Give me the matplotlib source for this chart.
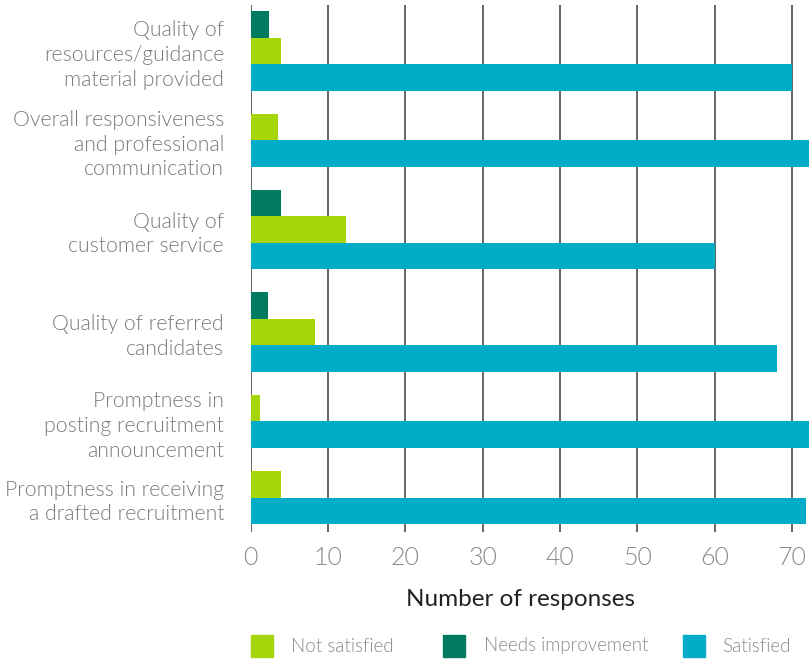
import matplotlib.pyplot as plt
from matplotlib.patches import Rectangle

plt.rcParams['font.family'] = ['Lato', 'DejaVu Sans']

categories = [
    'Quality of\nresources/guidance\nmaterial provided',
    'Overall responsiveness\nand professional\ncommunication',
    'Quality of\ncustomer service',
    'Quality of referred\ncandidates',
    'Promptness in\nposting recruitment\nannouncement',
    'Promptness in receiving\na drafted recruitment',
]
needs_improvement = [2.4, 0, 4.0, 2.2, 0, 0]
not_satisfied = [4.0, 3.5, 12.4, 8.4, 1.2, 4.0]
satisfied = [70, 75, 60, 68, 75, 71.8]

series_names = ['Not satisfied', 'Needs improvement', 'Satisfied']
colors = {'Not satisfied': '#a6d608', 'Needs improvement': '#007b5f', 'Satisfied': '#00acc8'}

fig = plt.figure(figsize=(8.09, 6.59), dpi=100)
ax = fig.add_axes([250.5 / 809, 1 - 532 / 659, 1 - 250.5 / 809, (532 - 5) / 659])

# bars inside a group are stacked one under another; empty ones are skipped
gap = 0.87
pos = 0.0
centers = []
for i in range(len(categories)):
    start = pos
    for name, vals in [('Needs improvement', needs_improvement),
                       ('Not satisfied', not_satisfied),
                       ('Satisfied', satisfied)]:
        v = vals[i]
        if v > 0:
            ax.barh(pos + 0.5, v, height=1.0, color=colors[name], zorder=3)
            pos += 1
    centers.append((start + pos) / 2)
    pos += gap
end = pos - gap

ax.set_ylim(end + 0.3, -0.23)
ax.set_xlim(0, 72.2)
ax.set_xticks(range(0, 71, 10))
ax.set_yticks(centers)
ax.set_yticklabels(categories, ha='right', linespacing=1.3)
ax.tick_params(axis='both', length=0)
ax.tick_params(axis='x', pad=10, labelsize=18, labelcolor='#8a8a8a')
ax.tick_params(axis='y', pad=19, labelsize=15.3, labelcolor='#7a7a7a')
for lab in ax.get_xticklabels() + ax.get_yticklabels():
    lab.set_fontweight(300)

ax.grid(axis='x', color='#4a4a4a', linewidth=1.2, zorder=0)
ax.set_axisbelow(True)
for s in ax.spines.values():
    s.set_visible(False)

fig.text(521 / 809, 1 - 600 / 659, 'Number of responses', ha='center', va='center',
         fontsize=17.5, color='#222222')

# legend row
legend_x = [251, 443, 683]
text_x = [291, 484, 722]
for name, lx, tx in zip(series_names, legend_x, text_x):
    fig.add_artist(Rectangle((lx / 809, 1 - 657 / 659), 22 / 809, 22 / 659,
                             transform=fig.transFigure, color=colors[name]))
    fig.text(tx / 809, 1 - 646 / 659, name, ha='left', va='center', fontsize=13.5,
             color='#8a8a8a', fontweight=300)

fig.savefig('out.png', dpi=100)
